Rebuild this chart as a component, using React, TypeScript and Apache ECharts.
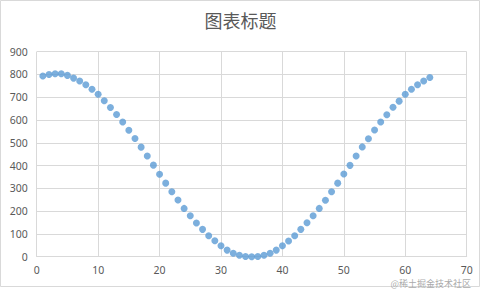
import React, { useEffect, useRef } from "react";
import * as echarts from "echarts";

const xValues: number[] = [
  1, 2, 3, 4, 5, 6, 7, 8, 9, 10, 11, 12, 13, 14, 15, 16, 17, 18, 19, 20, 21, 22,
  23, 24, 25, 26, 27, 28, 29, 30, 31, 32, 33, 34, 35, 36, 37, 38, 39, 40, 41, 42,
  43, 44, 45, 46, 47, 48, 49, 50, 51, 52, 53, 54, 55, 56, 57, 58, 59, 60, 61, 62,
  63, 64,
];
const yValues: number[] = [
  793, 800, 803, 803, 796, 784, 771, 755, 735, 713, 685, 655, 624, 591, 555, 519,
  481, 442, 402, 362, 323, 285, 249, 212, 180, 148, 120, 92, 70, 48, 29, 15, 6, 1,
  0, 1, 6, 15, 29, 48, 69, 92, 120, 149, 180, 212, 248, 285, 323, 363, 401, 442,
  482, 518, 556, 591, 623, 656, 683, 713, 735, 755, 771, 787,
];
const titleText = "图表标题";
const watermark = "@稀土掘金技术社区";

export default function App() {
  const ref = useRef<HTMLDivElement>(null);
  useEffect(() => {
    document.body.style.margin = "0";
    if (!ref.current) return;
    const chart = echarts.init(ref.current, undefined, { renderer: "svg" });
    const data = xValues.map((x, i) => [x, yValues[i]]);
    const labelStyle = {
      color: "#595959",
      fontSize: 10.5,
      fontFamily: "'Noto Sans', 'Liberation Sans', sans-serif",
    };
    chart.setOption({
      animation: false,
      backgroundColor: "#ffffff",
      title: {
        text: titleText,
        left: "center",
        top: 6,
        textStyle: {
          color: "#595959",
          fontSize: 18,
          fontWeight: "normal",
          fontFamily: "'Noto Sans CJK SC', sans-serif",
        },
      },
      grid: { left: 36.7, right: 14.3, top: 51.7, bottom: 32.3, containLabel: false },
      xAxis: {
        type: "value",
        min: 0,
        max: 70,
        interval: 10,
        axisLine: { show: true, lineStyle: { color: "#d9d9d9" } },
        axisTick: { show: false },
        splitLine: { show: true, lineStyle: { color: "#d9d9d9" } },
        axisLabel: { ...labelStyle, margin: 8 },
      },
      yAxis: {
        type: "value",
        min: 0,
        max: 900,
        interval: 100,
        axisLine: { show: false },
        axisTick: { show: false },
        splitLine: { show: true, lineStyle: { color: "#d9d9d9" } },
        axisLabel: { ...labelStyle, margin: 9 },
      },
      series: [
        {
          type: "scatter",
          data,
          symbol: "circle",
          symbolSize: 7,
          itemStyle: { color: "#5B9BD5" },
        },
      ],
      graphic: [
        {
          type: "rect",
          shape: { x: 0.5, y: 0.5, width: 479, height: 286 },
          style: { fill: "none", stroke: "#d9d9d9", lineWidth: 1 },
          silent: true,
        },
        {
          type: "text",
          right: 10,
          top: 279,
          style: {
            text: watermark,
            fill: "rgba(140,140,140,0.75)",
            fontSize: 9,
            fontFamily: "'Noto Sans CJK SC', sans-serif",
          },
          silent: true,
        },
      ],
    });
    return () => chart.dispose();
  }, []);
  return <div ref={ref} style={{ width: 481, height: 289 }} />;
}
